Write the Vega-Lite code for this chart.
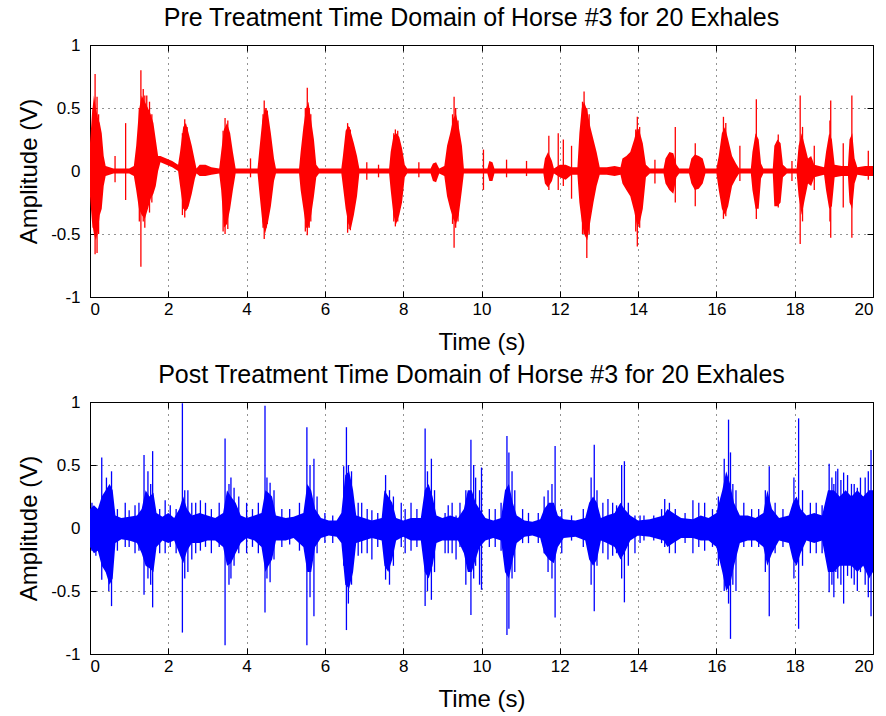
{
  "$schema": "https://vega.github.io/schema/vega-lite/v6.json",
  "background": "white",
  "padding": {"left": 17, "top": 5, "right": 6, "bottom": 4},
  "config": {
    "font": "Liberation Sans",
    "view": {"stroke": "black", "strokeWidth": 1},
    "title": {"fontSize": 25, "fontWeight": "normal", "color": "black", "offset": 5, "dx": -10, "anchor": "middle", "frame": "group"},
    "axis": {
      "domainColor": "black", "tickColor": "black", "labelColor": "black", "titleColor": "black",
      "labelFontSize": 17, "titleFontSize": 24, "titleFontWeight": "normal",
      "grid": true, "gridColor": "black", "gridDash": [1, 5], "gridOpacity": 0.85,
      "tickSize": -6
    },
    "axisX": {"labelPadding": 10},
    "axisY": {"labelPadding": 16},
    "concat": {"spacing": 7}
  },
  "datasets": {
    "pre_env": [
      {"t":0.00,"hi":0.22,"lo":-0.2},{"t":0.05,"hi":0.45,"lo":-0.4},{"t":0.10,"hi":0.6,"lo":-0.5},{"t":0.15,"hi":0.5,"lo":-0.55},
      {"t":0.20,"hi":0.42,"lo":-0.48},{"t":0.25,"hi":0.38,"lo":-0.35},{"t":0.30,"hi":0.3,"lo":-0.3},{"t":0.35,"hi":0.12,"lo":-0.12},
      {"t":0.40,"hi":0.04,"lo":-0.04},{"t":0.60,"hi":0.02,"lo":-0.02},{"t":0.80,"hi":0.02,"lo":-0.02},{"t":1.00,"hi":0.02,"lo":-0.02},
      {"t":1.12,"hi":0.04,"lo":-0.04},{"t":1.18,"hi":0.2,"lo":-0.15},{"t":1.25,"hi":0.48,"lo":-0.3},{"t":1.32,"hi":0.6,"lo":-0.35},
      {"t":1.40,"hi":0.55,"lo":-0.38},{"t":1.48,"hi":0.5,"lo":-0.3},{"t":1.55,"hi":0.45,"lo":-0.22},{"t":1.62,"hi":0.38,"lo":-0.18},
      {"t":1.68,"hi":0.25,"lo":-0.12},{"t":1.74,"hi":0.12,"lo":0.0},{"t":1.80,"hi":0.12,"lo":0.07},{"t":1.95,"hi":0.1,"lo":0.05},
      {"t":2.10,"hi":0.08,"lo":0.03},{"t":2.25,"hi":0.05,"lo":0.0},{"t":2.30,"hi":0.15,"lo":-0.12},{"t":2.38,"hi":0.35,"lo":-0.3},
      {"t":2.45,"hi":0.38,"lo":-0.32},{"t":2.52,"hi":0.3,"lo":-0.28},{"t":2.60,"hi":0.2,"lo":-0.18},{"t":2.68,"hi":0.08,"lo":-0.06},
      {"t":2.72,"hi":0.02,"lo":-0.02},{"t":2.80,"hi":0.05,"lo":-0.04},{"t":2.95,"hi":0.05,"lo":-0.04},{"t":3.10,"hi":0.03,"lo":-0.03},
      {"t":3.30,"hi":0.02,"lo":-0.02},{"t":3.35,"hi":0.15,"lo":-0.15},{"t":3.42,"hi":0.33,"lo":-0.45},{"t":3.50,"hi":0.38,"lo":-0.42},
      {"t":3.58,"hi":0.3,"lo":-0.3},{"t":3.65,"hi":0.15,"lo":-0.15},{"t":3.72,"hi":0.02,"lo":-0.02},{"t":4.00,"hi":0.02,"lo":-0.02},
      {"t":4.28,"hi":0.02,"lo":-0.02},{"t":4.32,"hi":0.15,"lo":-0.15},{"t":4.40,"hi":0.4,"lo":-0.4},{"t":4.47,"hi":0.5,"lo":-0.5},
      {"t":4.55,"hi":0.45,"lo":-0.4},{"t":4.62,"hi":0.3,"lo":-0.28},{"t":4.70,"hi":0.1,"lo":-0.08},{"t":4.75,"hi":0.02,"lo":-0.02},
      {"t":5.00,"hi":0.02,"lo":-0.02},{"t":5.34,"hi":0.02,"lo":-0.02},{"t":5.38,"hi":0.15,"lo":-0.15},{"t":5.45,"hi":0.35,"lo":-0.3},
      {"t":5.52,"hi":0.5,"lo":-0.45},{"t":5.58,"hi":0.55,"lo":-0.45},{"t":5.65,"hi":0.4,"lo":-0.35},{"t":5.72,"hi":0.25,"lo":-0.2},
      {"t":5.78,"hi":0.05,"lo":-0.05},{"t":5.85,"hi":0.02,"lo":-0.02},{"t":6.20,"hi":0.02,"lo":-0.02},{"t":6.42,"hi":0.02,"lo":-0.02},
      {"t":6.46,"hi":0.12,"lo":-0.12},{"t":6.53,"hi":0.32,"lo":-0.3},{"t":6.60,"hi":0.36,"lo":-0.42},{"t":6.67,"hi":0.3,"lo":-0.45},
      {"t":6.74,"hi":0.22,"lo":-0.35},{"t":6.82,"hi":0.12,"lo":-0.2},{"t":6.88,"hi":0.02,"lo":-0.02},{"t":7.20,"hi":0.02,"lo":-0.02},
      {"t":7.64,"hi":0.02,"lo":-0.02},{"t":7.68,"hi":0.15,"lo":-0.15},{"t":7.75,"hi":0.28,"lo":-0.35},{"t":7.82,"hi":0.3,"lo":-0.42},
      {"t":7.90,"hi":0.27,"lo":-0.35},{"t":7.97,"hi":0.18,"lo":-0.25},{"t":8.04,"hi":0.05,"lo":-0.05},{"t":8.10,"hi":0.02,"lo":-0.02},
      {"t":8.70,"hi":0.02,"lo":-0.02},{"t":8.76,"hi":0.06,"lo":-0.08},{"t":8.84,"hi":0.07,"lo":-0.09},{"t":8.92,"hi":0.02,"lo":-0.02},
      {"t":9.05,"hi":0.04,"lo":-0.04},{"t":9.12,"hi":0.2,"lo":-0.2},{"t":9.20,"hi":0.3,"lo":-0.3},{"t":9.28,"hi":0.42,"lo":-0.38},
      {"t":9.35,"hi":0.45,"lo":-0.42},{"t":9.42,"hi":0.35,"lo":-0.35},{"t":9.50,"hi":0.2,"lo":-0.15},{"t":9.55,"hi":0.02,"lo":-0.02},
      {"t":10.00,"hi":0.02,"lo":-0.02},{"t":10.15,"hi":0.02,"lo":-0.02},{"t":10.20,"hi":0.08,"lo":-0.08},{"t":10.28,"hi":0.07,"lo":-0.08},
      {"t":10.33,"hi":0.02,"lo":-0.02},{"t":11.00,"hi":0.02,"lo":-0.02},{"t":11.58,"hi":0.02,"lo":-0.02},{"t":11.62,"hi":0.1,"lo":-0.1},
      {"t":11.70,"hi":0.15,"lo":-0.13},{"t":11.80,"hi":0.08,"lo":-0.08},{"t":11.85,"hi":0.02,"lo":-0.02},{"t":12.00,"hi":0.05,"lo":-0.05},
      {"t":12.15,"hi":0.05,"lo":-0.07},{"t":12.30,"hi":0.03,"lo":-0.03},{"t":12.45,"hi":0.03,"lo":-0.03},{"t":12.50,"hi":0.3,"lo":-0.25},
      {"t":12.56,"hi":0.5,"lo":-0.4},{"t":12.62,"hi":0.55,"lo":-0.5},{"t":12.70,"hi":0.48,"lo":-0.55},{"t":12.78,"hi":0.35,"lo":-0.4},
      {"t":12.86,"hi":0.25,"lo":-0.25},{"t":12.94,"hi":0.15,"lo":-0.12},{"t":13.02,"hi":0.03,"lo":-0.03},{"t":13.20,"hi":0.03,"lo":-0.03},
      {"t":13.40,"hi":0.04,"lo":-0.04},{"t":13.55,"hi":0.03,"lo":-0.03},{"t":13.60,"hi":0.1,"lo":-0.1},{"t":13.70,"hi":0.12,"lo":-0.15},
      {"t":13.80,"hi":0.15,"lo":-0.2},{"t":13.90,"hi":0.25,"lo":-0.32},{"t":13.98,"hi":0.35,"lo":-0.45},{"t":14.05,"hi":0.3,"lo":-0.4},
      {"t":14.12,"hi":0.22,"lo":-0.3},{"t":14.20,"hi":0.05,"lo":-0.05},{"t":14.30,"hi":0.02,"lo":-0.02},{"t":14.65,"hi":0.02,"lo":-0.02},
      {"t":14.70,"hi":0.1,"lo":-0.1},{"t":14.80,"hi":0.15,"lo":-0.15},{"t":14.90,"hi":0.14,"lo":-0.18},{"t":14.98,"hi":0.05,"lo":-0.05},
      {"t":15.05,"hi":0.02,"lo":-0.02},{"t":15.30,"hi":0.02,"lo":-0.02},{"t":15.36,"hi":0.1,"lo":-0.1},{"t":15.45,"hi":0.13,"lo":-0.15},
      {"t":15.55,"hi":0.12,"lo":-0.14},{"t":15.65,"hi":0.1,"lo":-0.1},{"t":15.72,"hi":0.02,"lo":-0.02},{"t":16.00,"hi":0.02,"lo":-0.02},
      {"t":16.06,"hi":0.12,"lo":-0.15},{"t":16.14,"hi":0.3,"lo":-0.3},{"t":16.22,"hi":0.35,"lo":-0.35},{"t":16.30,"hi":0.25,"lo":-0.28},
      {"t":16.40,"hi":0.12,"lo":-0.12},{"t":16.50,"hi":0.06,"lo":-0.06},{"t":16.58,"hi":0.02,"lo":-0.02},{"t":16.88,"hi":0.02,"lo":-0.02},
      {"t":16.92,"hi":0.15,"lo":-0.15},{"t":17.00,"hi":0.3,"lo":-0.3},{"t":17.08,"hi":0.25,"lo":-0.3},{"t":17.14,"hi":0.06,"lo":-0.06},
      {"t":17.20,"hi":0.02,"lo":-0.02},{"t":17.44,"hi":0.02,"lo":-0.02},{"t":17.48,"hi":0.2,"lo":-0.28},{"t":17.56,"hi":0.25,"lo":-0.28},
      {"t":17.64,"hi":0.22,"lo":-0.25},{"t":17.70,"hi":0.05,"lo":-0.05},{"t":17.80,"hi":0.02,"lo":-0.02},{"t":18.05,"hi":0.02,"lo":-0.02},
      {"t":18.10,"hi":0.2,"lo":-0.2},{"t":18.18,"hi":0.3,"lo":-0.35},{"t":18.26,"hi":0.2,"lo":-0.22},{"t":18.34,"hi":0.1,"lo":-0.1},
      {"t":18.42,"hi":0.12,"lo":-0.12},{"t":18.50,"hi":0.05,"lo":-0.05},{"t":18.75,"hi":0.03,"lo":-0.03},{"t":18.80,"hi":0.15,"lo":-0.15},
      {"t":18.88,"hi":0.3,"lo":-0.3},{"t":18.95,"hi":0.25,"lo":-0.28},{"t":19.02,"hi":0.05,"lo":-0.05},{"t":19.20,"hi":0.04,"lo":-0.04},
      {"t":19.36,"hi":0.04,"lo":-0.04},{"t":19.40,"hi":0.25,"lo":-0.25},{"t":19.47,"hi":0.3,"lo":-0.3},{"t":19.53,"hi":0.1,"lo":-0.1},
      {"t":19.60,"hi":0.03,"lo":-0.03},{"t":19.80,"hi":0.04,"lo":-0.04},{"t":20.00,"hi":0.04,"lo":-0.04}
    ],
    "pre_spk": [
      {"t":0.08,"hi":0.5,"lo":-0.45},{"t":0.13,"hi":0.77,"lo":-0.66},{"t":0.18,"hi":0.59,"lo":-0.65},{"t":0.22,"hi":0.45,"lo":-0.5},
      {"t":0.64,"hi":0.12,"lo":-0.09},{"t":0.91,"hi":0.38,"lo":-0.23},{"t":1.26,"hi":0.5,"lo":-0.4},{"t":1.30,"hi":0.8,"lo":-0.76},
      {"t":1.36,"hi":0.65,"lo":-0.4},{"t":1.40,"hi":0.6,"lo":-0.45},{"t":1.45,"hi":0.6,"lo":-0.3},{"t":1.52,"hi":0.55,"lo":-0.33},
      {"t":1.58,"hi":0.45,"lo":-0.25},{"t":2.36,"hi":0.3,"lo":-0.35},{"t":2.42,"hi":0.41,"lo":-0.37},{"t":2.48,"hi":0.35,"lo":-0.3},
      {"t":3.40,"hi":0.32,"lo":-0.48},{"t":3.45,"hi":0.42,"lo":-0.5},{"t":3.52,"hi":0.4,"lo":-0.46},{"t":4.10,"hi":0.1,"lo":-0.05},
      {"t":4.42,"hi":0.45,"lo":-0.45},{"t":4.45,"hi":0.56,"lo":-0.54},{"t":4.50,"hi":0.5,"lo":-0.45},{"t":4.53,"hi":0.48,"lo":-0.42},
      {"t":5.50,"hi":0.5,"lo":-0.48},{"t":5.55,"hi":0.66,"lo":-0.51},{"t":5.60,"hi":0.5,"lo":-0.45},{"t":5.64,"hi":0.45,"lo":-0.4},
      {"t":6.58,"hi":0.38,"lo":-0.49},{"t":6.62,"hi":0.35,"lo":-0.46},{"t":6.65,"hi":0.33,"lo":-0.47},{"t":7.07,"hi":0.07,"lo":-0.07},
      {"t":7.37,"hi":0.05,"lo":-0.05},{"t":7.76,"hi":0.3,"lo":-0.4},{"t":7.80,"hi":0.33,"lo":-0.44},{"t":7.86,"hi":0.32,"lo":-0.4},
      {"t":8.40,"hi":0.07,"lo":-0.05},{"t":9.26,"hi":0.45,"lo":-0.42},{"t":9.30,"hi":0.59,"lo":-0.61},{"t":9.34,"hi":0.5,"lo":-0.45},
      {"t":9.40,"hi":0.4,"lo":-0.4},{"t":10.05,"hi":0.17,"lo":-0.15},{"t":10.64,"hi":0.09,"lo":-0.05},{"t":11.15,"hi":0.08,"lo":-0.04},
      {"t":11.72,"hi":0.28,"lo":-0.15},{"t":11.96,"hi":0.3,"lo":-0.15},{"t":12.09,"hi":0.25,"lo":-0.12},{"t":12.30,"hi":0.2,"lo":-0.22},
      {"t":12.58,"hi":0.55,"lo":-0.5},{"t":12.62,"hi":0.63,"lo":-0.5},{"t":12.69,"hi":0.5,"lo":-0.69},{"t":12.75,"hi":0.45,"lo":-0.5},
      {"t":13.94,"hi":0.33,"lo":-0.48},{"t":13.98,"hi":0.43,"lo":-0.6},{"t":14.04,"hi":0.35,"lo":-0.45},{"t":14.43,"hi":0.09,"lo":-0.1},
      {"t":14.95,"hi":0.35,"lo":-0.25},{"t":15.46,"hi":0.22,"lo":-0.28},{"t":16.18,"hi":0.43,"lo":-0.38},{"t":16.24,"hi":0.38,"lo":-0.36},
      {"t":16.60,"hi":0.2,"lo":-0.08},{"t":17.02,"hi":0.57,"lo":-0.38},{"t":17.58,"hi":0.29,"lo":-0.29},{"t":17.93,"hi":0.08,"lo":-0.08},
      {"t":18.14,"hi":0.6,"lo":-0.58},{"t":18.20,"hi":0.35,"lo":-0.4},{"t":18.50,"hi":0.2,"lo":-0.15},{"t":18.90,"hi":0.4,"lo":-0.4},
      {"t":18.92,"hi":0.56,"lo":-0.53},{"t":19.24,"hi":0.22,"lo":-0.29},{"t":19.46,"hi":0.6,"lo":-0.53},{"t":19.88,"hi":0.16,"lo":-0.07}
    ],
    "post_env": [
      {"t":0.00,"hi":0.15,"lo":-0.15},{"t":0.10,"hi":0.18,"lo":-0.2},{"t":0.20,"hi":0.15,"lo":-0.18},{"t":0.30,"hi":0.25,"lo":-0.3},
      {"t":0.40,"hi":0.3,"lo":-0.35},{"t":0.50,"hi":0.35,"lo":-0.45},{"t":0.58,"hi":0.3,"lo":-0.4},{"t":0.65,"hi":0.1,"lo":-0.12},
      {"t":0.80,"hi":0.08,"lo":-0.09},{"t":1.00,"hi":0.09,"lo":-0.1},{"t":1.20,"hi":0.1,"lo":-0.12},{"t":1.32,"hi":0.15,"lo":-0.2},
      {"t":1.42,"hi":0.3,"lo":-0.3},{"t":1.52,"hi":0.25,"lo":-0.32},{"t":1.62,"hi":0.28,"lo":-0.35},{"t":1.70,"hi":0.12,"lo":-0.15},
      {"t":1.85,"hi":0.09,"lo":-0.1},{"t":2.00,"hi":0.12,"lo":-0.12},{"t":2.15,"hi":0.08,"lo":-0.1},{"t":2.28,"hi":0.15,"lo":-0.2},
      {"t":2.38,"hi":0.25,"lo":-0.28},{"t":2.48,"hi":0.15,"lo":-0.18},{"t":2.60,"hi":0.1,"lo":-0.12},{"t":2.80,"hi":0.12,"lo":-0.12},
      {"t":3.00,"hi":0.1,"lo":-0.1},{"t":3.20,"hi":0.08,"lo":-0.1},{"t":3.40,"hi":0.12,"lo":-0.15},{"t":3.50,"hi":0.3,"lo":-0.3},
      {"t":3.60,"hi":0.25,"lo":-0.28},{"t":3.72,"hi":0.2,"lo":-0.2},{"t":3.85,"hi":0.1,"lo":-0.12},{"t":4.00,"hi":0.08,"lo":-0.08},
      {"t":4.20,"hi":0.1,"lo":-0.1},{"t":4.38,"hi":0.12,"lo":-0.15},{"t":4.48,"hi":0.3,"lo":-0.35},{"t":4.56,"hi":0.28,"lo":-0.3},
      {"t":4.65,"hi":0.25,"lo":-0.25},{"t":4.75,"hi":0.1,"lo":-0.1},{"t":5.00,"hi":0.08,"lo":-0.1},{"t":5.20,"hi":0.09,"lo":-0.08},
      {"t":5.45,"hi":0.12,"lo":-0.15},{"t":5.55,"hi":0.35,"lo":-0.35},{"t":5.65,"hi":0.3,"lo":-0.35},{"t":5.75,"hi":0.15,"lo":-0.15},
      {"t":5.90,"hi":0.08,"lo":-0.08},{"t":6.10,"hi":0.06,"lo":-0.06},{"t":6.30,"hi":0.06,"lo":-0.07},{"t":6.42,"hi":0.12,"lo":-0.12},
      {"t":6.52,"hi":0.42,"lo":-0.45},{"t":6.62,"hi":0.45,"lo":-0.48},{"t":6.72,"hi":0.3,"lo":-0.35},{"t":6.80,"hi":0.1,"lo":-0.12},
      {"t":7.00,"hi":0.08,"lo":-0.1},{"t":7.20,"hi":0.06,"lo":-0.08},{"t":7.45,"hi":0.08,"lo":-0.1},{"t":7.52,"hi":0.3,"lo":-0.3},
      {"t":7.62,"hi":0.25,"lo":-0.35},{"t":7.72,"hi":0.2,"lo":-0.25},{"t":7.82,"hi":0.08,"lo":-0.1},{"t":8.00,"hi":0.06,"lo":-0.07},
      {"t":8.20,"hi":0.08,"lo":-0.1},{"t":8.45,"hi":0.08,"lo":-0.1},{"t":8.55,"hi":0.3,"lo":-0.35},{"t":8.65,"hi":0.35,"lo":-0.4},
      {"t":8.75,"hi":0.25,"lo":-0.3},{"t":8.85,"hi":0.1,"lo":-0.12},{"t":9.00,"hi":0.08,"lo":-0.1},{"t":9.20,"hi":0.1,"lo":-0.1},
      {"t":9.40,"hi":0.08,"lo":-0.1},{"t":9.55,"hi":0.15,"lo":-0.2},{"t":9.65,"hi":0.3,"lo":-0.35},{"t":9.75,"hi":0.3,"lo":-0.35},
      {"t":9.85,"hi":0.2,"lo":-0.25},{"t":9.95,"hi":0.15,"lo":-0.15},{"t":10.10,"hi":0.08,"lo":-0.1},{"t":10.30,"hi":0.06,"lo":-0.08},
      {"t":10.50,"hi":0.08,"lo":-0.1},{"t":10.60,"hi":0.3,"lo":-0.35},{"t":10.70,"hi":0.35,"lo":-0.4},{"t":10.80,"hi":0.2,"lo":-0.25},
      {"t":10.90,"hi":0.1,"lo":-0.12},{"t":11.10,"hi":0.06,"lo":-0.07},{"t":11.30,"hi":0.05,"lo":-0.06},{"t":11.50,"hi":0.07,"lo":-0.08},
      {"t":11.60,"hi":0.15,"lo":-0.2},{"t":11.72,"hi":0.2,"lo":-0.25},{"t":11.85,"hi":0.2,"lo":-0.28},{"t":11.95,"hi":0.1,"lo":-0.15},
      {"t":12.10,"hi":0.07,"lo":-0.08},{"t":12.40,"hi":0.06,"lo":-0.07},{"t":12.65,"hi":0.08,"lo":-0.1},{"t":12.75,"hi":0.2,"lo":-0.25},
      {"t":12.85,"hi":0.25,"lo":-0.3},{"t":12.95,"hi":0.2,"lo":-0.25},{"t":13.05,"hi":0.08,"lo":-0.1},{"t":13.20,"hi":0.1,"lo":-0.12},
      {"t":13.40,"hi":0.12,"lo":-0.15},{"t":13.55,"hi":0.2,"lo":-0.25},{"t":13.65,"hi":0.15,"lo":-0.2},{"t":13.80,"hi":0.1,"lo":-0.1},
      {"t":14.00,"hi":0.06,"lo":-0.06},{"t":14.30,"hi":0.07,"lo":-0.07},{"t":14.65,"hi":0.1,"lo":-0.1},{"t":14.75,"hi":0.15,"lo":-0.15},
      {"t":14.90,"hi":0.12,"lo":-0.12},{"t":15.10,"hi":0.08,"lo":-0.08},{"t":15.40,"hi":0.07,"lo":-0.08},{"t":15.60,"hi":0.1,"lo":-0.1},
      {"t":15.80,"hi":0.08,"lo":-0.1},{"t":16.00,"hi":0.12,"lo":-0.15},{"t":16.15,"hi":0.3,"lo":-0.35},{"t":16.25,"hi":0.45,"lo":-0.5},
      {"t":16.35,"hi":0.35,"lo":-0.45},{"t":16.45,"hi":0.2,"lo":-0.3},{"t":16.60,"hi":0.1,"lo":-0.12},{"t":16.80,"hi":0.1,"lo":-0.1},
      {"t":17.00,"hi":0.08,"lo":-0.1},{"t":17.20,"hi":0.12,"lo":-0.15},{"t":17.30,"hi":0.3,"lo":-0.3},{"t":17.42,"hi":0.15,"lo":-0.2},
      {"t":17.60,"hi":0.08,"lo":-0.1},{"t":17.85,"hi":0.1,"lo":-0.12},{"t":17.95,"hi":0.2,"lo":-0.25},{"t":18.05,"hi":0.25,"lo":-0.3},
      {"t":18.15,"hi":0.15,"lo":-0.2},{"t":18.30,"hi":0.1,"lo":-0.1},{"t":18.50,"hi":0.12,"lo":-0.12},{"t":18.70,"hi":0.1,"lo":-0.1},
      {"t":18.85,"hi":0.3,"lo":-0.35},{"t":19.00,"hi":0.3,"lo":-0.35},{"t":19.15,"hi":0.25,"lo":-0.3},{"t":19.30,"hi":0.3,"lo":-0.3},
      {"t":19.45,"hi":0.25,"lo":-0.3},{"t":19.60,"hi":0.3,"lo":-0.35},{"t":19.75,"hi":0.25,"lo":-0.3},{"t":19.90,"hi":0.3,"lo":-0.4},
      {"t":20.00,"hi":0.3,"lo":-0.35}
    ],
    "post_spk": [
      {"t":0.05,"hi":0.2,"lo":-0.18},{"t":0.15,"hi":0.15,"lo":-0.22},{"t":0.30,"hi":0.56,"lo":-0.41},{"t":0.42,"hi":0.4,"lo":-0.35},
      {"t":0.48,"hi":0.3,"lo":-0.5},{"t":0.55,"hi":0.45,"lo":-0.62},{"t":0.70,"hi":0.15,"lo":-0.18},{"t":0.90,"hi":0.2,"lo":-0.15},
      {"t":1.00,"hi":0.14,"lo":-0.15},{"t":1.15,"hi":0.18,"lo":-0.2},{"t":1.25,"hi":0.2,"lo":-0.18},{"t":1.38,"hi":0.58,"lo":-0.53},
      {"t":1.48,"hi":0.45,"lo":-0.4},{"t":1.55,"hi":0.35,"lo":-0.45},{"t":1.60,"hi":0.61,"lo":-0.63},{"t":1.78,"hi":0.15,"lo":-0.2},
      {"t":1.92,"hi":0.22,"lo":-0.2},{"t":2.05,"hi":0.18,"lo":-0.15},{"t":2.20,"hi":0.15,"lo":-0.2},{"t":2.36,"hi":0.99,"lo":-0.83},
      {"t":2.42,"hi":0.3,"lo":-0.4},{"t":2.50,"hi":0.3,"lo":-0.35},{"t":2.60,"hi":0.2,"lo":-0.25},{"t":2.70,"hi":0.2,"lo":-0.2},
      {"t":2.82,"hi":0.22,"lo":-0.18},{"t":2.95,"hi":0.2,"lo":-0.15},{"t":3.10,"hi":0.15,"lo":-0.2},{"t":3.30,"hi":0.2,"lo":-0.15},
      {"t":3.45,"hi":0.71,"lo":-0.93},{"t":3.55,"hi":0.35,"lo":-0.45},{"t":3.60,"hi":0.4,"lo":-0.4},{"t":3.68,"hi":0.32,"lo":-0.3},
      {"t":3.80,"hi":0.25,"lo":-0.2},{"t":4.00,"hi":0.2,"lo":-0.2},{"t":4.15,"hi":0.15,"lo":-0.15},{"t":4.30,"hi":0.2,"lo":-0.2},
      {"t":4.47,"hi":0.97,"lo":-0.67},{"t":4.52,"hi":0.4,"lo":-0.4},{"t":4.60,"hi":0.36,"lo":-0.43},{"t":4.70,"hi":0.3,"lo":-0.25},
      {"t":4.90,"hi":0.15,"lo":-0.15},{"t":5.10,"hi":0.15,"lo":-0.13},{"t":5.35,"hi":0.2,"lo":-0.18},{"t":5.54,"hi":0.8,"lo":-0.93},
      {"t":5.62,"hi":0.5,"lo":-0.55},{"t":5.72,"hi":0.55,"lo":-0.7},{"t":5.80,"hi":0.25,"lo":-0.2},{"t":6.00,"hi":0.12,"lo":-0.12},
      {"t":6.20,"hi":0.1,"lo":-0.12},{"t":6.48,"hi":0.49,"lo":-0.3},{"t":6.55,"hi":0.8,"lo":-0.81},{"t":6.60,"hi":0.5,"lo":-0.6},
      {"t":6.68,"hi":0.45,"lo":-0.45},{"t":6.85,"hi":0.2,"lo":-0.22},{"t":6.94,"hi":0.2,"lo":-0.2},{"t":7.08,"hi":0.15,"lo":-0.2},
      {"t":7.20,"hi":0.14,"lo":-0.25},{"t":7.35,"hi":0.12,"lo":-0.15},{"t":7.55,"hi":0.42,"lo":-0.41},{"t":7.65,"hi":0.3,"lo":-0.45},
      {"t":7.75,"hi":0.25,"lo":-0.3},{"t":7.95,"hi":0.2,"lo":-0.15},{"t":8.05,"hi":0.15,"lo":-0.2},{"t":8.20,"hi":0.2,"lo":-0.18},
      {"t":8.35,"hi":0.15,"lo":-0.15},{"t":8.56,"hi":0.79,"lo":-0.62},{"t":8.62,"hi":0.45,"lo":-0.5},{"t":8.72,"hi":0.55,"lo":-0.57},
      {"t":8.80,"hi":0.3,"lo":-0.35},{"t":9.07,"hi":0.12,"lo":-0.2},{"t":9.15,"hi":0.18,"lo":-0.2},{"t":9.25,"hi":0.2,"lo":-0.2},
      {"t":9.35,"hi":0.1,"lo":-0.25},{"t":9.45,"hi":0.2,"lo":-0.15},{"t":9.60,"hi":0.3,"lo":-0.45},{"t":9.73,"hi":0.7,"lo":-0.69},
      {"t":9.80,"hi":0.5,"lo":-0.4},{"t":9.85,"hi":0.4,"lo":-0.3},{"t":9.95,"hi":0.3,"lo":-0.45},{"t":10.00,"hi":0.48,"lo":-0.49},
      {"t":10.20,"hi":0.15,"lo":-0.15},{"t":10.35,"hi":0.15,"lo":-0.15},{"t":10.50,"hi":0.2,"lo":-0.18},{"t":10.65,"hi":0.73,"lo":-0.85},
      {"t":10.70,"hi":0.6,"lo":-0.8},{"t":10.78,"hi":0.45,"lo":-0.4},{"t":10.85,"hi":0.3,"lo":-0.35},{"t":11.05,"hi":0.15,"lo":-0.12},
      {"t":11.20,"hi":0.12,"lo":-0.12},{"t":11.45,"hi":0.12,"lo":-0.12},{"t":11.60,"hi":0.25,"lo":-0.2},{"t":11.70,"hi":0.3,"lo":-0.35},
      {"t":11.80,"hi":0.35,"lo":-0.4},{"t":11.88,"hi":0.65,"lo":-0.71},{"t":12.05,"hi":0.15,"lo":-0.2},{"t":12.30,"hi":0.1,"lo":-0.1},
      {"t":12.60,"hi":0.15,"lo":-0.15},{"t":12.80,"hi":0.4,"lo":-0.45},{"t":12.88,"hi":0.66,"lo":-0.66},{"t":12.95,"hi":0.3,"lo":-0.3},
      {"t":13.10,"hi":0.2,"lo":-0.2},{"t":13.23,"hi":0.23,"lo":-0.25},{"t":13.35,"hi":0.2,"lo":-0.22},{"t":13.45,"hi":0.18,"lo":-0.2},
      {"t":13.58,"hi":0.5,"lo":-0.4},{"t":13.65,"hi":0.53,"lo":-0.59},{"t":13.75,"hi":0.2,"lo":-0.3},{"t":13.92,"hi":0.1,"lo":-0.2},
      {"t":14.05,"hi":0.1,"lo":-0.12},{"t":14.15,"hi":0.1,"lo":-0.1},{"t":14.40,"hi":0.1,"lo":-0.1},{"t":14.60,"hi":0.15,"lo":-0.12},
      {"t":14.68,"hi":0.23,"lo":-0.15},{"t":14.80,"hi":0.2,"lo":-0.2},{"t":14.95,"hi":0.15,"lo":-0.2},{"t":15.20,"hi":0.12,"lo":-0.12},
      {"t":15.40,"hi":0.22,"lo":-0.2},{"t":15.55,"hi":0.2,"lo":-0.15},{"t":15.70,"hi":0.2,"lo":-0.18},{"t":15.90,"hi":0.15,"lo":-0.15},
      {"t":16.05,"hi":0.25,"lo":-0.3},{"t":16.20,"hi":0.55,"lo":-0.5},{"t":16.31,"hi":0.86,"lo":-0.6},{"t":16.36,"hi":0.6,"lo":-0.88},
      {"t":16.42,"hi":0.35,"lo":-0.45},{"t":16.50,"hi":0.3,"lo":-0.5},{"t":16.70,"hi":0.2,"lo":-0.15},{"t":16.90,"hi":0.15,"lo":-0.15},
      {"t":17.08,"hi":0.15,"lo":-0.15},{"t":17.25,"hi":0.3,"lo":-0.35},{"t":17.35,"hi":0.49,"lo":-0.7},{"t":17.50,"hi":0.2,"lo":-0.2},
      {"t":17.70,"hi":0.15,"lo":-0.15},{"t":17.98,"hi":0.4,"lo":-0.4},{"t":18.10,"hi":0.87,"lo":-0.8},{"t":18.20,"hi":0.3,"lo":-0.3},
      {"t":18.40,"hi":0.2,"lo":-0.2},{"t":18.55,"hi":0.2,"lo":-0.2},{"t":18.70,"hi":0.18,"lo":-0.2},{"t":18.88,"hi":0.51,"lo":-0.51},
      {"t":18.95,"hi":0.4,"lo":-0.45},{"t":19.00,"hi":0.35,"lo":-0.55},{"t":19.05,"hi":0.45,"lo":-0.35},{"t":19.10,"hi":0.47,"lo":-0.4},
      {"t":19.18,"hi":0.38,"lo":-0.45},{"t":19.25,"hi":0.44,"lo":-0.6},{"t":19.35,"hi":0.42,"lo":-0.38},{"t":19.45,"hi":0.35,"lo":-0.4},
      {"t":19.52,"hi":0.35,"lo":-0.45},{"t":19.60,"hi":0.32,"lo":-0.5},{"t":19.68,"hi":0.4,"lo":-0.35},{"t":19.80,"hi":0.4,"lo":-0.45},
      {"t":19.88,"hi":0.45,"lo":-0.55},{"t":19.95,"hi":0.62,"lo":-0.7}
    ]
  },
  "vconcat": [
    {
      "title": "Pre Treatment Time Domain of Horse #3 for 20 Exhales",
      "width": 783,
      "height": 252,
      "resolve": {"axis": {"x": "independent", "y": "independent"}},
      "layer": [
        {
          "data": {"name": "pre_env"},
          "mark": {"type": "area", "color": "#ff0000", "interpolate": "linear"},
          "encoding": {
            "x": {"field": "t", "type": "quantitative", "scale": {"domain": [0, 20], "nice": false},
                  "axis": {"values": [0,2,4,6,8,10,12,14,16,18,20], "title": "Time (s)", "titlePadding": 13}},
            "y": {"field": "hi", "type": "quantitative", "scale": {"domain": [-1, 1], "nice": false},
                  "axis": {"values": [-1,-0.5,0,0.5,1], "labelExpr": "'' + datum.value", "title": "Amplitude (V)", "titlePadding": 9}},
            "y2": {"field": "lo"}
          }
        },
        {
          "data": {"name": "pre_spk"},
          "mark": {"type": "rule", "color": "#ff0000", "strokeWidth": 1.3},
          "encoding": {
            "x": {"field": "t", "type": "quantitative",
                  "axis": {"orient": "top", "values": [0,2,4,6,8,10,12,14,16,18,20], "labels": false, "title": null, "grid": false, "domain": false}},
            "y": {"field": "hi", "type": "quantitative",
                  "axis": {"orient": "right", "values": [-1,-0.5,0,0.5,1], "labels": false, "title": null, "grid": false, "domain": false}},
            "y2": {"field": "lo"}
          }
        }
      ]
    },
    {
      "title": "Post Treatment Time Domain of Horse #3 for 20 Exhales",
      "width": 783,
      "height": 252,
      "resolve": {"axis": {"x": "independent", "y": "independent"}},
      "layer": [
        {
          "data": {"name": "post_env"},
          "mark": {"type": "area", "color": "#0000ff", "interpolate": "linear"},
          "encoding": {
            "x": {"field": "t", "type": "quantitative", "scale": {"domain": [0, 20], "nice": false},
                  "axis": {"values": [0,2,4,6,8,10,12,14,16,18,20], "title": "Time (s)", "titlePadding": 13}},
            "y": {"field": "hi", "type": "quantitative", "scale": {"domain": [-1, 1], "nice": false},
                  "axis": {"values": [-1,-0.5,0,0.5,1], "labelExpr": "'' + datum.value", "title": "Amplitude (V)", "titlePadding": 9}},
            "y2": {"field": "lo"}
          }
        },
        {
          "data": {"name": "post_spk"},
          "mark": {"type": "rule", "color": "#0000ff", "strokeWidth": 1.3},
          "encoding": {
            "x": {"field": "t", "type": "quantitative",
                  "axis": {"orient": "top", "values": [0,2,4,6,8,10,12,14,16,18,20], "labels": false, "title": null, "grid": false, "domain": false}},
            "y": {"field": "hi", "type": "quantitative",
                  "axis": {"orient": "right", "values": [-1,-0.5,0,0.5,1], "labels": false, "title": null, "grid": false, "domain": false}},
            "y2": {"field": "lo"}
          }
        }
      ]
    }
  ]
}
